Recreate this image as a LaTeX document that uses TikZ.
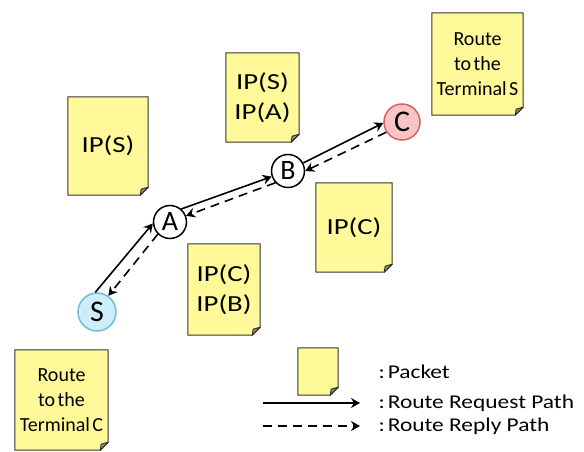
\documentclass[tikz,border=0pt]{standalone}
\usepackage{fontspec}
\setmainfont{Carlito}
\newfontfamily\ipfont{Carlito}[FakeStretch=1.25]
\newfontfamily\keyfont{Carlito}[FakeStretch=1.2]
\newcommand\routefont{\fontsize{20}{25}\selectfont\spaceskip=0.12em\relax}
\usetikzlibrary{arrows.meta,backgrounds}
\definecolor{noteyellow}{RGB}{255,249,153}
\definecolor{notefold}{RGB}{150,146,110}
\definecolor{sblue}{RGB}{205,238,249}
\definecolor{sborder}{RGB}{110,190,220}
\definecolor{cpink}{RGB}{248,196,196}
\definecolor{cborder}{RGB}{215,100,100}
\tikzset{
  station/.style={circle, draw, line width=1.5pt, minimum size=33pt, inner sep=0pt, font=\fontsize{28}{28}\selectfont},
  packet/.style={rectangle, inner sep=0pt, align=center, font=\ipfont\fontsize{23}{30}\selectfont},
  routenote/.style={packet, font=\routefont},
  req/.style={-{Stealth[length=9pt,width=10pt,inset=3pt]}, line width=1.6pt},
  rep/.style={req, dash pattern=on 9pt off 6pt},
  keytext/.style={anchor=west, font=\keyfont\fontsize{19.5}{20}\selectfont}
}
\begin{document}
\begin{tikzpicture}[x=1pt, y=-1pt]
\useasboundingbox (0,0) rectangle (584,452);
\node [packet, minimum width=80pt, minimum height=98pt] (pS) at (108,146) {IP(S)};
\node [packet, minimum width=73pt, minimum height=89pt] (pSA) at (262.5,97.5) {IP(S)\\IP(A)};
\node [routenote, minimum width=91pt, minimum height=102pt] (pRS) at (477.5,64) {Route\\to the\\Terminal S};
\node [packet, minimum width=76pt, minimum height=89pt] (pC) at (354,227.5) {IP(C)};
\node [packet, minimum width=72pt, minimum height=91pt] (pCB) at (224,289.5) {IP(C)\\IP(B)};
\node [routenote, minimum width=93pt, minimum height=100pt] (pRC) at (61.5,400) {Route\\to the\\Terminal C};
\node [packet, minimum width=40pt, minimum height=47pt] (pKey) at (318,371.5) {};
\begin{scope}[on background layer]
\foreach \p in {pS,pSA,pRS,pC,pCB,pRC,pKey}{
  \filldraw [fill=noteyellow, draw=black!80, line width=1pt, line join=round] (\p.north west) -- (\p.north east) -- ([yshift=8pt]\p.south east) -- ([xshift=-8pt]\p.south east) -- (\p.south west) -- cycle;
  \filldraw [fill=notefold, draw=black!80, line width=1pt, line join=round] ([yshift=8pt]\p.south east) -- ([shift={(-7pt,6pt)}]\p.south east) -- ([xshift=-8pt]\p.south east) -- cycle;
}
\end{scope}
\node [station, minimum size=38pt, fill=sblue, draw=sborder, font=\fontsize{30}{30}\selectfont] (s) at (97,312) {S};
\node [station, fill=white] (a) at (170,222) {A};
\node [station, fill=white] (b) at (288,171) {B};
\node [station, minimum size=36pt, fill=cpink, draw=cborder, font=\fontsize{30}{30}\selectfont] (c) at (402,122) {C};
\draw [req] (s.95) -- (a.185);
\draw [req] (a.49) -- (b.199);
\draw [req] (b.28) -- (c.183);
\draw [rep] (c.213) -- (b.0);
\draw [rep] (b.223) -- (a.21);
\draw [rep] (a.225) -- (s.55);
\coordinate (kq1) at (263,403);
\coordinate (kq2) at (360,403);
\coordinate (kp1) at (263,426);
\coordinate (kp2) at (360,426);
\draw [req] (kq1) -- (kq2);
\draw [rep] (kp1) -- (kp2);
\node [keytext] (tKey) at (375,372) {:\kern3pt Packet};
\node [keytext] (tReq) at (375,403) {:\kern3pt Route Request Path};
\node [keytext] (tRep) at (375,426) {:\kern3pt Route Reply Path};
\end{tikzpicture}
\end{document}
